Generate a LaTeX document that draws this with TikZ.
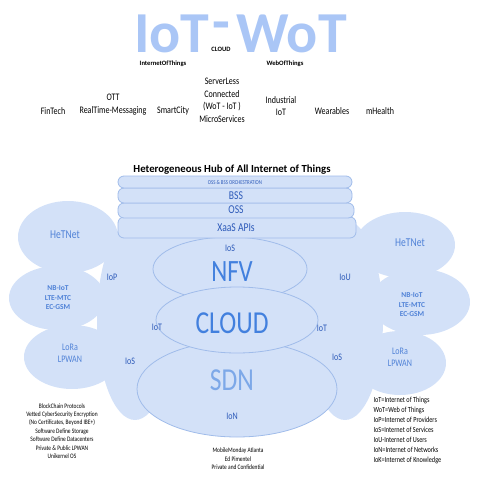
\documentclass[tikz,border=0pt]{standalone}
\usepackage{fontspec}
\setmainfont{Carlito}[FakeStretch=0.8]
\newfontfamily\widefont{Carlito}
\usetikzlibrary{shapes.geometric}
\definecolor{blobfill}{RGB}{211,225,248}
\definecolor{ringline}{RGB}{160,188,234}
\definecolor{lblblue}{RGB}{45,90,185}
\definecolor{bublblue}{RGB}{80,130,215}
\definecolor{bigblue}{RGB}{66,128,222}
\definecolor{sdnblue}{RGB}{125,168,232}
\definecolor{titleblue}{RGB}{170,198,246}

\begin{document}
\begin{tikzpicture}[x=1pt,y=-1pt,
                blob/.style={fill=blobfill},
                ring/.style={ellipse,draw=ringline,fill=blobfill,line width=0.8pt,inner sep=0pt},
                layer/.style={draw=ringline,fill=blobfill,rounded corners=6pt,line width=0.8pt},
                word/.style={text=titleblue,inner sep=0pt,text depth=0pt,font=\widefont\bfseries\fontsize{58}{58}\selectfont},
                lbl/.style={text=lblblue,font=\fontsize{10}{12}\selectfont},
                bub/.style={text=bublblue,font=\fontsize{12}{14}\selectfont},
                net/.style={text=bublblue,align=center,font=\widefont\bfseries\fontsize{7.5}{9.5}\selectfont},
                lpw/.style={text=bublblue,align=center,font=\fontsize{10}{12}\selectfont},
                app/.style={align=center,font=\fontsize{10}{12.5}\selectfont},
                tiny/.style={inner sep=0.5pt,font=\widefont\bfseries\fontsize{6.6}{8}\selectfont},
                note/.style={align=center,font=\fontsize{6.8}{8.4}\selectfont}]
	\useasboundingbox (0,0) rectangle (480,480);

	\node[word,anchor=base west] (iotword) at (134,52) {IoT};
	\node[word,anchor=base,text height=10pt] (dash) at (221,41) {-};
	\node[word,anchor=base east] (wotword) at (347,52) {WoT};
	\node[tiny] (cloudtop) at (221,49) {CLOUD};
	\node[tiny] (iotname) at (163,63.5) {InternetOfThings};
	\node[tiny] (wotname) at (285,63.5) {WebOfThings};

	\node[app] (fintech) at (53,111) {FinTech};
	\node[app] (ott) at (113,104.5) {OTT\\RealTime-Messaging};
	\node[app] (smart) at (173,111) {SmartCity};
	\node[app] (serverless) at (222,100.5) {ServerLess\\Connected\\(WoT - IoT )\\MicroServices};
	\node[app] (industrial) at (281,106) {Industrial\\IoT};
	\node[app] (wear) at (332,111) {Wearables};
	\node[app] (mhealth) at (380,111) {mHealth};

	\fill[blob] (240,315) ellipse (128 and 110);
	\fill[blob] (135,320) ellipse (38 and 100);
	\fill[blob] (345,320) ellipse (38 and 100);
	\fill[blob] (68,237) ellipse (50 and 36);
	\fill[blob] (57,298) ellipse (48 and 32);
	\fill[blob] (72,357) ellipse (48 and 32);
	\fill[blob] (405,245) ellipse (50 and 33);
	\fill[blob] (420,302) ellipse (50 and 33);
	\fill[blob] (400,363) ellipse (46 and 32);

	\node[ring,minimum width=154pt,minimum height=64pt] (nfv) at (230,269) {};
	\node[ring,minimum width=200pt,minimum height=96pt] (sdn) at (237,389) {};
	\node[ring,minimum width=162pt,minimum height=66pt] (cloud) at (237,320) {};

	\draw[layer] (118,217) rectangle (356,238);
	\draw[layer] (118,203) rectangle (354,218);
	\draw[layer] (118,188) rectangle (352,203);
	\draw[layer] (118,176) rectangle (352,188);
	\node[text=lblblue,font=\fontsize{6}{7}\selectfont] (orch) at (235,182) {OSS \& BSS ORCHESTRATION};
	\node[text=lblblue,font=\fontsize{12}{14}\selectfont] (bss) at (236,196) {BSS};
	\node[text=lblblue,font=\fontsize{12}{14}\selectfont] (oss) at (236,210) {OSS};
	\node[text=lblblue,font=\fontsize{12}{14}\selectfont] (xaas) at (236,228) {XaaS APIs};
	\node[font=\widefont\bfseries\fontsize{10.8}{12}\selectfont] (hub) at (232,170) {Heterogeneous Hub of All Internet of Things};

	\node[lbl] (ios1) at (230,248) {IoS};
	\node[text=bigblue,font=\fontsize{31}{31}\selectfont] (nfvtext) at (232,272) {NFV};
	\node[text=bigblue,font=\fontsize{32}{32}\selectfont] (cloudtext) at (232,323) {CLOUD};
	\node[text=sdnblue,font=\fontsize{32}{32}\selectfont] (sdntext) at (232,380) {SDN};
	\node[lbl] (ion) at (232,416) {IoN};
	\node[lbl] (iot1) at (157,327) {IoT};
	\node[lbl] (iot2) at (322,328) {IoT};
	\node[lbl] (iop) at (112,277) {IoP};
	\node[lbl] (ios2) at (130,361) {IoS};
	\node[lbl] (iou) at (345,277) {IoU};
	\node[lbl] (ios3) at (337,357) {IoS};

	\node[bub] (hetl) at (65,235) {HeTNet};
	\node[net] (nbl) at (58,298) {NB-IoT\\LTE-MTC\\EC-GSM};
	\node[lpw] (lorl) at (70,353) {LoRa\\LPWAN};
	\node[bub] (hetr) at (410,243) {HeTNet};
	\node[net] (nbr) at (412,305) {NB-IoT\\LTE-MTC\\EC-GSM};
	\node[lpw] (lorr) at (400,357) {LoRa\\LPWAN};

	\node[note] (tech) at (62,431) {BlockChain Protocols\\Vetted CyberSecurity Encryption\\(No Certificates, Beyond IBE+)\\Software Define Storage\\Software Define Datacenters\\Private \& Public LPWAN\\Unikernel OS};
	\node[note] (credit) at (238,459) {MobileMonday Atlanta\\Ed Pimentel\\Private and Confidential};
	\node[align=left,anchor=north west,font=\fontsize{7.8}{10}\selectfont] (legend) at (370,394) {IoT=Internet of Things\\WoT=Web of Things\\IoP=Internet of Providers\\IoS=Internet of Services\\IoU-Internet of Users\\IoN=Internet of Networks\\IoK=Internet of Knowledge};

\end{tikzpicture}
\end{document}
